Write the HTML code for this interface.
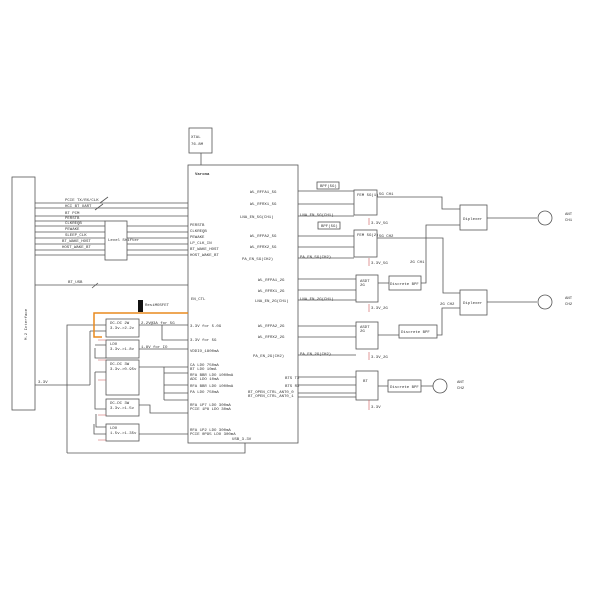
<!DOCTYPE html><html><head><style>body{margin:0;background:#fff}svg{display:block}text{font-family:"Liberation Mono",monospace;font-size:4px;fill:#333}</style></head><body>
<svg width="600" height="600" viewBox="0 0 600 600" xmlns="http://www.w3.org/2000/svg">
<g fill="none" stroke="#555" stroke-width="0.8">
<rect x="189" y="128" width="23" height="25"/><line x1="201" y1="153" x2="201" y2="165"/>
<rect x="188" y="165" width="110" height="278"/>
<rect x="12" y="177" width="23" height="233"/>
<rect x="105" y="221" width="22" height="39"/>
<path d="M35 203H188M35 208H188M35 216H188M35 221H105M35 226H105M35 232H105M35 238H105M35 244H105M35 250H105M35 255H105M127 226H188M127 232H188M127 238H188M127 244H188M127 250H188M127 255H188M35 285H188M35 385H90"/>
<path d="M100 203l8-6M95 210l8-6M92 288l6-5"/>
<rect x="106" y="319" width="33" height="18"/><rect x="106" y="340" width="33" height="18"/><rect x="106" y="360" width="33" height="35"/><rect x="106" y="399" width="33" height="17"/><rect x="106" y="424" width="33" height="17"/>
<path d="M67 453V325H106M90 385V331M90 331H106M95 348V358H106M95 345H106M95 372V409H106M95 372H106M96 414V427H106M94 424V434H106M67 453H245V443"/>
<path d="M139 325H188M162 325V340H188M139 349H188M139 367H188M164 367V400M164 373H188M164 385H188M164 393H188M164 400H188M139 405H150V413H188M139 434H188"/>
<path d="M298 191H354M298 204H354M298 216H354M298 236H354M298 247H354M298 258H354M298 279H356M298 290H356M298 300H356M298 326H356M298 337H356M298 355H356M298 377H356M298 385H356M298 393H356M298 397H356"/>
<rect x="354" y="190" width="23" height="25"/><rect x="354" y="230" width="23" height="27"/><rect x="356" y="275" width="22" height="27"/><rect x="356" y="322" width="22" height="27"/><rect x="356" y="371" width="22" height="29"/>
<rect x="317" y="182" width="22" height="7"/><rect x="318" y="222" width="22" height="7"/>
<rect x="389" y="276" width="32" height="14"/><rect x="399" y="325" width="38" height="13"/><rect x="388" y="380" width="33" height="12"/>
<rect x="460" y="205" width="27" height="25"/><rect x="460" y="290" width="27" height="25"/>
<path d="M377 197H442V209H460M377 238H443V293H460M378 283H389M421 283H426V225H460M378 335H399M437 335H442V308H460M378 386H388M421 386H433M487 218H537M487 302H537"/>
<circle cx="545" cy="218" r="7"/><circle cx="545" cy="302" r="7"/><circle cx="440" cy="386" r="7"/>
</g>
<path d="M188 313H94V337H102" fill="none" stroke="#e98a1e" stroke-width="1.5"/>
<rect x="138" y="300" width="5" height="12" fill="#111"/>
<g fill="none" stroke="#c55" stroke-width="0.6"><path d="M369 218V225M369 258V266M369 304V312M369 352V360M369 400V410M98 340H106M98 360H106M98 380H106M98 415H106M98 440H106"/></g>
<g>
<text x="191" y="138" font-size="5">XTAL</text><text x="191" y="145" font-size="5">76.8M</text>
<text x="195" y="175" font-size="5" font-weight="bold">Varona</text>
<text transform="translate(27 340) rotate(-90)" font-size="5">M.2 Interface</text>
<text x="65" y="201">PCIE TX/RX/CLK</text><text x="65" y="207">HCI BT UART</text><text x="65" y="214">BT PCM</text><text x="65" y="219">PERSTB</text><text x="65" y="224">CLKREQB</text><text x="65" y="230">PEWAKE</text><text x="65" y="236">SLEEP_CLK</text><text x="62" y="242">BT_WAKE_HOST</text><text x="62" y="248">HOST_WAKE_BT</text><text x="68" y="283">BT_USB</text><text x="38" y="383">3.3V</text>
<text x="190" y="226">PERSTB</text><text x="190" y="232">CLKREQB</text><text x="190" y="238">PEWAKE</text><text x="190" y="244">LP_CLK_IN</text><text x="190" y="250">BT_WAKE_HOST</text><text x="190" y="256">HOST_WAKE_BT</text>
<text x="191" y="300">EN_CTL</text><text x="190" y="327">3.3V for 5.0G</text><text x="190" y="341">3.3V for 5G</text><text x="190" y="352">VDDIO_1800mA</text>
<text x="190" y="366">CA LDO 750mA</text><text x="190" y="370">BT LDO 10mA</text><text x="190" y="376">RFA BBR LDO 1000mA</text><text x="190" y="380">ADC LDO 10mA</text><text x="190" y="387">RFA BBR LDO 1000mA</text><text x="190" y="393" fill="#c3c">PA LDO 750mA</text>
<text x="190" y="406">RFA 1P7 LDO 300mA</text><text x="190" y="410">PCIE 1P8 LDO 30mA</text><text x="190" y="431">RFA 1P2 LDO 300mA</text><text x="190" y="435">PCIE 0P95 LDO 300mA</text><text x="232" y="440">USB_3.3V</text>
<text x="250" y="193">WL_RFFA1_5G</text><text x="250" y="205">WL_RFRX1_5G</text><text x="240" y="218">LNA_EN_5G(CH1)</text><text x="250" y="237">WL_RFPA2_5G</text><text x="250" y="248">WL_RFRX2_5G</text><text x="242" y="260">PA_EN_5G(CH2)</text>
<text x="258" y="281">WL_RFPA1_2G</text><text x="258" y="292">WL_RFRX1_2G</text><text x="255" y="302">LNA_EN_2G(CH1)</text><text x="258" y="327">WL_RFPA2_2G</text><text x="258" y="338">WL_RFRX2_2G</text><text x="253" y="357">PA_EN_2G(CH2)</text>
<text x="285" y="379">BTS TX</text><text x="285" y="387">BTS RX</text><text x="248" y="393">BT_OPEN_CTRL_ANT0_0</text><text x="248" y="397">BT_OPEN_CTRL_ANT0_1</text>
<text x="110" y="324">DC-DC 2W</text><text x="110" y="329">3.3v-&gt;2.2v</text><text x="110" y="345">LDO</text><text x="110" y="350">3.3v-&gt;1.8v</text><text x="110" y="365">DC-DC 3W</text><text x="110" y="370">3.3v-&gt;0.95v</text><text x="110" y="404">DC-DC 3W</text><text x="110" y="409">3.3v-&gt;1.5v</text><text x="110" y="429">LDO</text><text x="110" y="434">1.5v-&gt;1.35v</text>
<text x="141" y="324" fill="#c44">2.2V@3A for 5G</text><text x="141" y="348" fill="#c44">1.8V for IO</text><text x="145" y="306" font-size="3">ResiMOSFET</text>
<text x="108" y="241" font-size="3">Level Shifter</text>
<text x="357" y="196" font-size="3">FEM 5G(1)</text><text x="357" y="236" font-size="3">FEM 5G(2)</text><text x="360" y="282">ASDT</text><text x="360" y="286">2G</text><text x="360" y="328">ASDT</text><text x="360" y="332">2G</text><text x="363" y="382">BT</text>
<text x="379" y="195">5G CH1</text><text x="379" y="237">5G CH2</text><text x="410" y="263">2G CH1</text><text x="440" y="305">2G CH2</text>
<text x="320" y="187" font-size="3">BPF(5G)</text><text x="321" y="227" font-size="3">BPF(5G)</text><text x="390" y="285" font-size="3.5">Discrete BPF</text><text x="401" y="333" font-size="3.5">Discrete BPF</text><text x="390" y="388" font-size="3.5">Discrete BPF</text>
<text x="463" y="220" font-size="3.5">Diplexer</text><text x="463" y="304" font-size="3.5">Diplexer</text>
<text x="565" y="215" font-size="5">ANT</text><text x="565" y="221" font-size="5">CH1</text><text x="565" y="299" font-size="5">ANT</text><text x="565" y="305" font-size="5">CH2</text><text x="457" y="383" font-size="5">ANT</text><text x="457" y="389" font-size="5">CH2</text>
<text x="300" y="216">LNA_EN_5G(CH1)</text><text x="300" y="258">PA_EN_5G(CH2)</text><text x="300" y="300">LNA_EN_2G(CH1)</text><text x="300" y="355">PA_EN_2G(CH2)</text>
<text x="371" y="224" fill="#c55">3.3V_5G</text><text x="371" y="264" fill="#c55">3.3V_5G</text><text x="371" y="309" fill="#c55">3.3V_2G</text><text x="371" y="358" fill="#c55">3.3V_2G</text><text x="371" y="408" fill="#c55">3.3V</text>
</g>
</svg></body></html>
